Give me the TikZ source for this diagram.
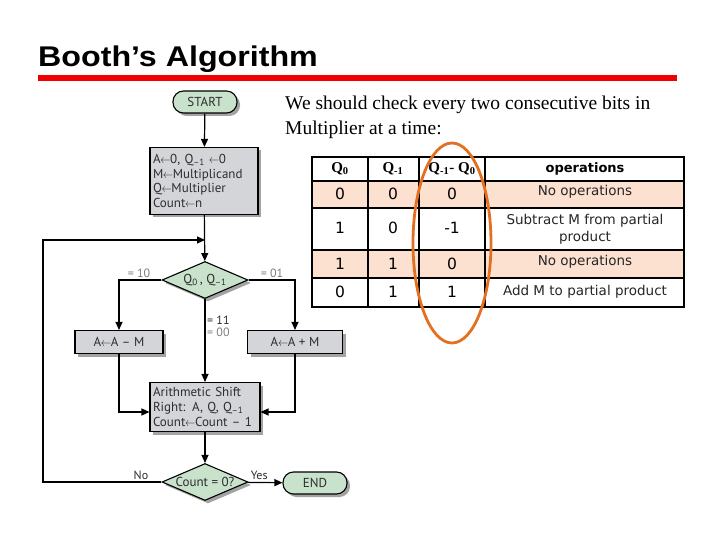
\documentclass[tikz,border=0pt]{standalone}
\usepackage{fontspec}
\setmainfont{Liberation Serif}
\newfontfamily\flowfont{PT Sans}
\newfontfamily\opfont{DejaVu Sans}
\newfontfamily\titlefont{Liberation Sans}
\usepackage{xcolor}
\definecolor{termgreen}{RGB}{200, 226, 204}
\definecolor{boxgray}{RGB}{211, 213, 216}
\definecolor{rowpeach}{RGB}{252, 224, 208}
\definecolor{ovalorange}{RGB}{226, 112, 32}
\definecolor{slidered}{RGB}{240, 0, 0}
\definecolor{labelgray}{RGB}{125, 125, 125}
\definecolor{textdark}{RGB}{45, 45, 45}
\usetikzlibrary{positioning,shapes.geometric,shadows,arrows.meta,calc}
\tikzset{
  flowbox/.style={
    rectangle, draw=black, line width=1.1pt, fill=boxgray,
    text=textdark, align=left, inner sep=3pt,
    font=\flowfont\fontsize{13}{14.6}\selectfont,
    drop shadow={shadow xshift=3pt, shadow yshift=-3pt, fill=black!45, opacity=.8}
  },
  terminal/.style={
    flowbox, fill=termgreen, rounded corners=10.5pt, align=center,
    minimum width=64pt, minimum height=22pt
  },
  decision/.style={
    diamond, draw=black, line width=1.1pt, fill=termgreen, aspect=2.3,
    inner sep=0pt, minimum width=86pt, minimum height=37pt, text=textdark,
    font=\flowfont\fontsize{13}{14}\selectfont,
    drop shadow={shadow xshift=3pt, shadow yshift=-3pt, fill=black!45, opacity=.8}
  },
  arrow/.style={-{Triangle[length=8pt,width=7pt]}, line width=1.2pt, draw=black},
  edgelabel/.style={font=\flowfont\fontsize{12}{13}\selectfont, text=labelgray, inner sep=1pt},
  headcell/.style={font=\bfseries\fontsize{15}{17}\selectfont, inner sep=0pt},
  cell/.style={font=\opfont\fontsize{15.5}{18}\selectfont, inner sep=0pt},
  opcell/.style={font=\opfont\fontsize{13.5}{17}\selectfont, text=black!85, align=center, inner sep=0pt},
}
\newcommand{\asg}{\kern-.3pt\scalebox{0.85}[1]{$\leftarrow$}\kern-.3pt}

\begin{document}
\begin{tikzpicture}[x=1pt, y=-1pt]
  \useasboundingbox (0,0) rectangle (720,540);

  % title bar
  \node[anchor=base west, inner sep=0pt] (title) at (38,67)
    {\titlefont\bfseries\fontsize{28.5}{30}\selectfont\scalebox{1.13}[1]{Booth’s Algorithm}};
  \fill[slidered] (38,75) rectangle (677,81);

  % flowchart
  \node[terminal] (start) at (205,102) {START};
  \node[flowbox, minimum width=108pt, minimum height=67pt, text width=102pt] (init) at (204,181)
    {A\asg0, Q\textsubscript{–1} \asg0\\
     M\asg Multiplicand\\
     Q\asg Multiplier\\
     Count\asg n};
  \coordinate (join) at (205,240);
  \node[decision] (check) at (205,280) {Q\textsubscript{0}\,, Q\textsubscript{–1}};
  \node[flowbox, minimum width=88pt, minimum height=23pt, align=center] (sub) at (119,342) {A\asg A – M};
  \node[flowbox, minimum width=95pt, minimum height=23pt, align=center] (add) at (295,342) {A\asg A + M};
  \node[flowbox, minimum width=110pt, minimum height=49pt, text width=104pt] (shift) at (205,407)
    {Arithmetic Shift\\
     Right: A, Q, Q\textsubscript{–1}\\
     Count\asg Count – 1};
  \node[decision] (count) at (205,482) {Count = 0?};
  \node[terminal] (endnode) at (315,483) {END};
  \coordinate (loopx) at (43,0);

  \draw[arrow] (start) -- (init);
  \draw[arrow] (init) -- (check);
  \draw[arrow] (check.west) -| (sub.north);
  \draw[arrow] (check.east) -| (add.north);
  \draw[arrow] (check) -- (shift);
  \draw[arrow] (sub.south) |- ([yshift=-5pt]shift.west);
  \draw[arrow] (add.south) |- ([yshift=-5pt]shift.east);
  \draw[arrow] (shift) -- (count);
  \draw[arrow] (count) -- (endnode);
  \draw[arrow] (count.west) -- (count.west -| loopx) |- (join);

  \node[edgelabel, above left=1pt and 10pt of check.west] (eq10) {= 10};
  \node[edgelabel, above right=1pt and 11pt of check.east] (eq01) {= 01};
  \node[edgelabel, text=textdark, below right=16pt and 1pt of check.south] (eq11) {= 11};
  \node[edgelabel, below=1pt of eq11] (eq00) {= 00};
  \node[edgelabel, text=textdark, above left=1pt and 12pt of count.west] (nolabel) {No};
  \node[edgelabel, text=textdark, above right=1pt and 1pt of count.east] (yeslabel) {Yes};

  % explanation
  \node[anchor=north west, align=left, inner sep=0pt, font=\fontsize{19.5}{25}\selectfont] (intro) at (285,96)
    {We should check every two consecutive bits in\\Multiplier at a time:};

  % table
  \fill[rowpeach] (312,181) rectangle (684,208);
  \fill[rowpeach] (312,250) rectangle (684,278);
  \draw[line width=2pt] (312,157) rectangle (684,307);
  \foreach \yy in {181,208,250,278}
    \draw[line width=2pt] (312,\yy) -- (684,\yy);
  \foreach \xx in {368,419,485}
    \draw[line width=2pt] (\xx,157) -- (\xx,307);

  \node[headcell] (hq) at (340,169) {Q\textsubscript{0}};
  \node[headcell] (hqm) at (393,169) {Q\textsubscript{-1}};
  \node[headcell] (hdiff) at (452,169) {Q\textsubscript{-1}- Q\textsubscript{0}};
  \node[opcell, font=\opfont\bfseries\fontsize{13}{15}\selectfont, text=black] (hop) at (585,169) {operations};

  \foreach \q/\qm/\d/\yy [count=\i] in {0/0/0/194, 1/0/-1/228, 1/1/0/264, 0/1/1/292} {
    \node[cell] (q\i) at (340,\yy) {\q};
    \node[cell] (qm\i) at (393,\yy) {\qm};
    \node[cell] (d\i) at (452,\yy) {\d};
  }
  \node[opcell] (op1) at (585,192) {No operations};
  \node[opcell] (op2) at (585,229) {Subtract M from partial\\product};
  \node[opcell] (op3) at (585,262) {No operations};
  \node[opcell] (op4) at (585,292) {Add M to partial product};

  % highlight of the difference column
  \draw[ovalorange, line width=2.8pt] (452,243) ellipse [x radius=39pt, y radius=100pt];
\end{tikzpicture}
\end{document}
